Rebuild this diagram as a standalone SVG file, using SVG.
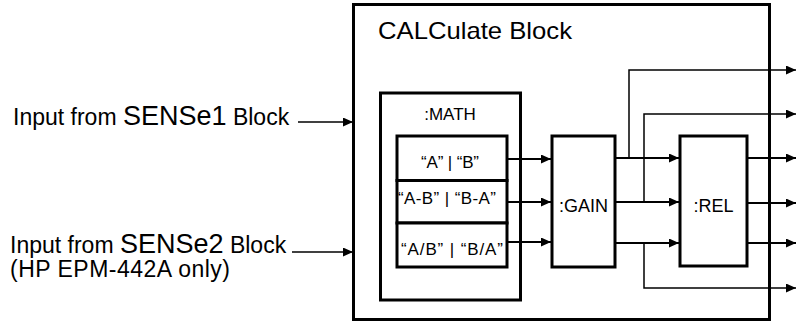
<svg xmlns="http://www.w3.org/2000/svg" width="796" height="323" viewBox="0 0 796 323">
<defs>
<marker id="ah" markerUnits="userSpaceOnUse" markerWidth="11" markerHeight="9" refX="10" refY="4.5" orient="auto"><path d="M0,0 L10,4.5 L0,9 z" fill="#000"/></marker>
<style>
.box{fill:#fff;stroke:#000;stroke-width:3}
.t{font-family:"Liberation Sans",Arial,Helvetica,sans-serif;fill:#000}
.c{fill:none;stroke:#000;stroke-width:1.5}
.a{fill:none;stroke:#000;stroke-width:2;marker-end:url(#ah)}
</style>
</defs>
<rect width="796" height="323" fill="#fff"/>
<g id="calc">
<rect class="box" x="353.5" y="4.5" width="416" height="315"/>
<text class="t" x="378" y="39" font-size="24" textLength="194" lengthAdjust="spacingAndGlyphs">CALCulate Block</text>
</g>
<g id="labels">
<text class="t" x="13" y="125" font-size="23">Input from <tspan font-size="27">SENSe1</tspan> Block</text>
<text class="t" font-size="23"><tspan x="10" y="253">Input from <tspan font-size="27">SENSe2</tspan> Block</tspan><tspan x="10" y="277" textLength="220" lengthAdjust="spacing">(HP EPM-442A only)</tspan></text>
</g>
<g id="math">
<rect class="box" x="380.5" y="93" width="140" height="207"/>
<text class="t" x="450" y="120" font-size="17" text-anchor="middle">:MATH</text>
</g>
<g id="row1">
<rect class="box" x="397" y="136" width="110" height="44.5"/>
<text class="t" x="421" y="168" font-size="17" textLength="58" lengthAdjust="spacing">“A” | “B”</text>
</g>
<g id="row2">
<rect class="box" x="397" y="180.5" width="110" height="42.5"/>
<text class="t" x="398" y="204" font-size="17" textLength="98" lengthAdjust="spacing">“A-B” | “B-A”</text>
</g>
<g id="row3">
<rect class="box" x="397" y="223" width="110" height="44"/>
<text class="t" x="401" y="255" font-size="17" textLength="102" lengthAdjust="spacing">“A/B” | “B/A”</text>
</g>
<g id="gain">
<rect class="box" x="552" y="136" width="63" height="131"/>
<text class="t" x="583.5" y="212" font-size="18" text-anchor="middle">:GAIN</text>
</g>
<g id="rel">
<rect class="box" x="680" y="136" width="67" height="130"/>
<text class="t" x="713.5" y="212" font-size="18" text-anchor="middle">:REL</text>
</g>
<g id="connectors">
<line class="c" x1="298" y1="122" x2="353" y2="122" marker-end="url(#ah)"/>
<line class="c" x1="292" y1="252" x2="353" y2="252" marker-end="url(#ah)"/>
<line class="a" x1="507" y1="159" x2="551" y2="159"/>
<line class="a" x1="507" y1="202" x2="551" y2="202"/>
<line class="a" x1="507" y1="242" x2="551" y2="242"/>
<line class="a" x1="615" y1="158" x2="679" y2="158"/>
<line class="a" x1="615" y1="202" x2="679" y2="202"/>
<line class="a" x1="615" y1="243" x2="679" y2="243"/>
<polyline class="c" points="629,158 629,70 796,70" marker-end="url(#ah)"/>
<polyline class="c" points="644,202 644,114 796,114" marker-end="url(#ah)"/>
<polyline class="c" points="644,243 644,288 796,288" marker-end="url(#ah)"/>
<line class="a" x1="747" y1="158" x2="796" y2="158"/>
<line class="a" x1="747" y1="203" x2="796" y2="203"/>
<line class="a" x1="747" y1="243" x2="796" y2="243"/>
</g>
</svg>
